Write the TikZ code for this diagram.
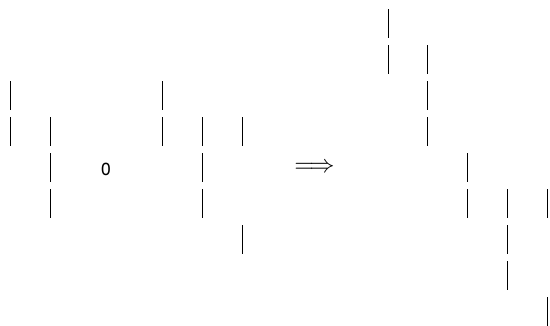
\documentclass[tikz,border=0pt]{standalone}
\usepackage{graphicx}
\usepackage{fontspec}
\newfontfamily\opfont{Liberation Sans}
\begin{document}
\begin{tikzpicture}[x=1pt,y=1pt,
  bar/.style={line width=1pt, black},
  lbl/.style={inner sep=0pt, outer sep=0pt}]
\useasboundingbox (0,0) rectangle (550,326);
% bars: column x (px) / row index; row k spans 9.5+36k .. 38+36k from the top
\foreach \x/\r in {10.5/2, 10.5/3,
                   50.5/3, 50.5/4, 50.5/5,
                   162.5/2, 162.5/3,
                   202.5/3, 202.5/4, 202.5/5,
                   242.5/3, 242.5/6,
                   388.5/0, 388.5/1,
                   427.5/1, 427.5/2, 427.5/3,
                   467.5/4, 467.5/5,
                   507.5/5, 507.5/6, 507.5/7,
                   547.5/5, 547.5/8}
  \draw[bar] (\x, {326-(9.5+36*\r)}) -- ++(0,-28.5);
\node[lbl] (op) at (106,157) {\scalebox{0.75}[1]{\opfont\fontsize{23}{23}\selectfont o}};
\node[lbl] (arr) at (314.5,158.5) {\scalebox{2.5}{$\Longrightarrow$}};
\end{tikzpicture}
\end{document}
